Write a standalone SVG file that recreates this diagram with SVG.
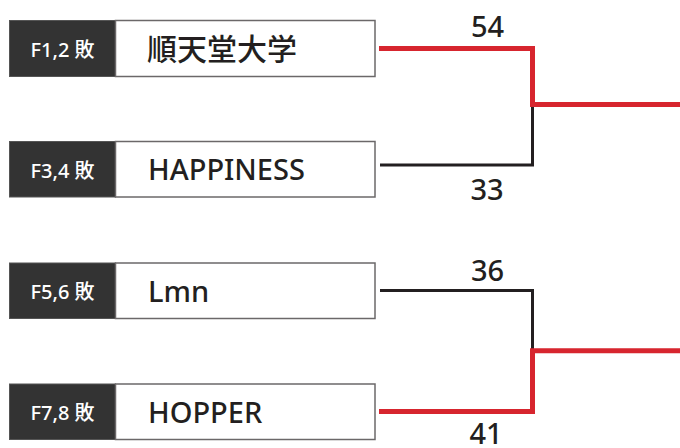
<svg xmlns="http://www.w3.org/2000/svg" width="680" height="448" viewBox="0 0 680 448">
<style>
.lab{fill:#333333;stroke:#555;stroke-width:1}
.box{fill:#ffffff;stroke:#6b6869;stroke-width:1.5}
.labt{font-family:"Noto Sans","Noto Sans CJK JP",sans-serif;font-size:20px;font-weight:500;fill:#ffffff}
.name{font-family:"Noto Sans","Noto Sans CJK JP",sans-serif;font-size:29px;font-weight:500;fill:#231f20}
.score{font-family:"Noto Sans",sans-serif;font-size:29px;font-weight:500;fill:#231f20;text-anchor:middle}
.win{fill:none;stroke:#d7252e;stroke-width:5}
.lose{fill:none;stroke:#231f20;stroke-width:3}
</style>
<rect width="680" height="448" fill="#ffffff"/>
<g id="team1">
<rect class="lab" x="9.5" y="20.5" width="106" height="56"/>
<rect class="box" x="115.5" y="20.5" width="259.5" height="56"/>
<text class="labt" x="30.5" y="56.5">F1,2 敗</text>
<text class="name" x="147" y="60" style="font-family:'Noto Sans CJK JP',sans-serif;font-size:30px">順天堂大学</text>
</g>
<g id="team2">
<rect class="lab" x="9.5" y="141.5" width="106" height="55.5"/>
<rect class="box" x="115.5" y="141.5" width="259.5" height="55.5"/>
<text class="labt" x="30.5" y="177.5">F3,4 敗</text>
<text class="name" x="148" y="179.5">HAPPINESS</text>
</g>
<g id="team3">
<rect class="lab" x="9.5" y="263" width="106" height="55.5"/>
<rect class="box" x="115.5" y="263" width="259.5" height="55.5"/>
<text class="labt" x="30.5" y="299">F5,6 敗</text>
<text class="name" x="148" y="301.5">Lmn</text>
</g>
<g id="team4">
<rect class="lab" x="9.5" y="384" width="106" height="55.5"/>
<rect class="box" x="115.5" y="384" width="259.5" height="55.5"/>
<text class="labt" x="30.5" y="420">F7,8 敗</text>
<text class="name" x="148" y="422.5">HOPPER</text>
</g>
<g id="connectors">
<polyline class="lose" points="380,165 532.5,165 532.5,104"/>
<polyline class="win" points="379,48.5 532.5,48.5 532.5,104.5 680,104.5"/>
<polyline class="lose" points="380,290.5 532.5,290.5 532.5,351"/>
<polyline class="win" points="379,411.5 532.5,411.5 532.5,350.8 680,350.8"/>
</g>
<g id="scores">
<text class="score" x="487.5" y="36.5">54</text>
<text class="score" x="487" y="200">33</text>
<text class="score" x="487.5" y="280.5">36</text>
<text class="score" x="486" y="444">41</text>
</g>
</svg>
